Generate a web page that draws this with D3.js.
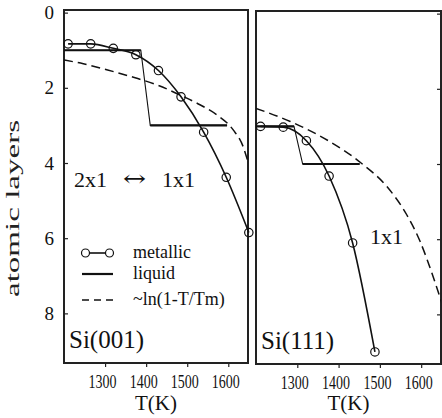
<!DOCTYPE html>
<html>
<head>
<meta charset="utf-8">
<script src="https://cdn.jsdelivr.net/npm/d3@7/dist/d3.min.js"></script>
<style>
  body { margin: 0; background: #fff; }
  svg text { font-family: "Liberation Serif", "DejaVu Serif", serif; fill: #111; }
</style>
</head>
<body>
<div id="chart"></div>
<script>
// tick values
const tempTicks = [1300, 1400, 1500, 1600];
const layerTicks = [0, 2, 4, 6, 8];

// Si(001) panel
const metal001T = [1210, 1265, 1320, 1375, 1430, 1485, 1540, 1595, 1650];
const metal001D = [0.83, 0.83, 0.95, 1.12, 1.54, 2.24, 3.18, 4.38, 5.85];
const liquid001T = [1200, 1387, 1410, 1597];
const liquid001D = [1.0, 1.0, 3.0, 3.0];
const ln001T = [1200, 1247, 1304, 1369, 1426, 1482, 1531, 1572, 1612, 1636, 1650];
const ln001D = [1.26, 1.36, 1.52, 1.72, 1.92, 2.19, 2.45, 2.72, 3.12, 3.56, 4.05];

// Si(111) panel
const metal111T = [1211, 1266, 1322, 1377, 1434, 1488];
const metal111D = [3.0, 3.02, 3.38, 4.32, 6.1, 9.0];
const liquid111T = [1200, 1292, 1313, 1451];
const liquid111D = [3.0, 3.0, 4.0, 4.0];
const ln111T = [1200, 1283, 1364, 1453, 1517, 1565, 1597, 1629, 1650];
const ln111D = [2.52, 2.87, 3.31, 3.96, 4.6, 5.35, 6.05, 7.0, 7.7];

const W = 442, H = 418;
const svg = d3.select('#chart').append('svg')
    .attr('width', W)
    .attr('height', H);

const zip = (a, b) => a.map((v, i) => [v, b[i]]);

const panels = [
    { id: 'p001', x0: 64, x1: 248, y0: 10, y1: 363, name: 'Si(001)', labelled: true,
      metal: zip(metal001T, metal001D), liquid: zip(liquid001T, liquid001D), ln: zip(ln001T, ln001D) },
    { id: 'p111', x0: 256, x1: 441, y0: 11, y1: 364, name: 'Si(111)', labelled: false,
      metal: zip(metal111T, metal111D), liquid: zip(liquid111T, liquid111D), ln: zip(ln111T, ln111D) }
];

const defs = svg.append('defs');

panels.forEach(p => {
    const x = d3.scaleLinear().domain([1200, 1648]).range([p.x0, p.x1]);
    const y = d3.scaleLinear().domain([-0.07, 9.32]).range([p.y0, p.y1]);

    defs.append('clipPath').attr('id', 'clip-' + p.id)
        .append('rect')
        .attr('x', p.x0).attr('y', p.y0)
        .attr('width', p.x1 - p.x0).attr('height', p.y1 - p.y0);

    const g = svg.append('g');

    // x axis
    const xAxis = g.append('g')
        .attr('transform', `translate(0,${p.y1})`)
        .call(d3.axisBottom(x).tickValues(tempTicks).tickFormat(d3.format('d'))
            .tickSize(4).tickPadding(8));
    xAxis.select('.domain').remove();
    xAxis.selectAll('line').attr('stroke', '#222').attr('stroke-width', 1.2);
    xAxis.selectAll('text')
        .attr('font-size', 18)
        .attr('dx', -3)
        .attr('textLength', 28)
        .attr('lengthAdjust', 'spacingAndGlyphs')
        .style('font-family', '"Liberation Serif", serif')
        .attr('fill', '#111');

    // y axis ticks
    if (p.labelled) {
        const yAxis = g.append('g')
            .attr('transform', `translate(${p.x0},0)`)
            .call(d3.axisLeft(y).tickValues(layerTicks).tickSize(-4).tickPadding(10));
        yAxis.select('.domain').remove();
        yAxis.selectAll('line').attr('stroke', '#222').attr('stroke-width', 1.2);
        yAxis.selectAll('text')
            .attr('font-size', 19)
            .style('font-family', '"Liberation Serif", serif')
            .attr('fill', '#111');
    } else {
        const yAxis = g.append('g')
            .attr('transform', `translate(${p.x1},0)`)
            .call(d3.axisRight(y).tickValues(layerTicks).tickSize(-4).tickFormat(''));
        yAxis.select('.domain').remove();
        yAxis.selectAll('line').attr('stroke', '#222').attr('stroke-width', 1.2);
    }

    // frame
    g.append('rect')
        .attr('x', p.x0).attr('y', p.y0)
        .attr('width', p.x1 - p.x0).attr('height', p.y1 - p.y0)
        .attr('fill', 'none')
        .attr('stroke', '#222')
        .attr('stroke-width', 2);

    const plot = g.append('g').attr('clip-path', `url(#clip-${p.id})`);

    // ~ln(1-T/Tm) dashed
    plot.append('path')
        .datum(p.ln)
        .attr('d', d3.line().x(d => x(d[0])).y(d => y(d[1])).curve(d3.curveMonotoneX))
        .attr('fill', 'none')
        .attr('stroke', '#111')
        .attr('stroke-width', 1.5)
        .attr('stroke-dasharray', '9,5');

    // liquid: thin connector plus thick flats
    const lineL = d3.line().x(d => x(d[0])).y(d => y(d[1]));
    plot.append('path')
        .datum(p.liquid)
        .attr('d', lineL)
        .attr('fill', 'none')
        .attr('stroke', '#111')
        .attr('stroke-width', 1.1);
    [p.liquid.slice(0, 2), p.liquid.slice(2, 4)].forEach(seg => {
        plot.append('path')
            .datum(seg)
            .attr('d', lineL)
            .attr('fill', 'none')
            .attr('stroke', '#111')
            .attr('stroke-width', 2.2);
    });

    // metallic
    g.append('path')
        .datum(p.metal)
        .attr('d', d3.line().x(d => x(d[0])).y(d => y(d[1])).curve(d3.curveMonotoneX))
        .attr('fill', 'none')
        .attr('stroke', '#111')
        .attr('stroke-width', 1.6);
    g.selectAll('.pt-' + p.id)
        .data(p.metal)
        .enter()
        .append('circle')
        .attr('class', 'pt-' + p.id)
        .attr('cx', d => x(d[0]))
        .attr('cy', d => y(d[1]))
        .attr('r', 4.2)
        .attr('fill', 'none')
        .attr('stroke', '#111')
        .attr('stroke-width', 1.2);

    // axis title
    g.append('text')
        .attr('x', (p.x0 + p.x1) / 2)
        .attr('y', 410)
        .attr('text-anchor', 'middle')
        .attr('font-size', 21)
        .text('T(K)');

    // panel name
    g.append('text')
        .attr('x', p.x0 + 5)
        .attr('y', p.y1 - 15)
        .attr('font-size', 25)
        .text(p.name);
});

// y title
svg.append('text')
    .attr('transform', 'translate(18.5,208.5) rotate(-90)')
    .attr('text-anchor', 'middle')
    .attr('font-size', 18)
    .attr('textLength', 177)
    .attr('lengthAdjust', 'spacingAndGlyphs')
    .style('fill', '#222')
    .text('atomic layers');

// annotations
svg.append('text').attr('x', 74).attr('y', 187).attr('font-size', 22).text('2x1');
svg.append('text')
    .attr('transform', 'translate(123,186) scale(1.25,1)')
    .attr('font-size', 22)
    .style('font-family', '"DejaVu Serif", serif')
    .text('\u2194');
svg.append('text').attr('x', 162).attr('y', 187).attr('font-size', 22).text('1x1');
svg.append('text').attr('x', 370).attr('y', 244).attr('font-size', 22).text('1x1');

// legend
const legend = svg.append('g');
const lx0 = 82, lx1 = 113, tx = 133;
legend.append('line')
    .attr('x1', lx0 + 3.5).attr('x2', lx1 - 3.5).attr('y1', 253).attr('y2', 253)
    .attr('stroke', '#111').attr('stroke-width', 1.6);
[lx0 + 3.5, lx1 - 3.5].forEach(cx => {
    legend.append('circle').attr('cx', cx).attr('cy', 253).attr('r', 4)
        .attr('fill', '#fff').attr('stroke', '#111').attr('stroke-width', 1.2);
});
legend.append('line')
    .attr('x1', lx0).attr('x2', lx1).attr('y1', 274).attr('y2', 274)
    .attr('stroke', '#111').attr('stroke-width', 2.2);
legend.append('line')
    .attr('x1', lx0).attr('x2', lx1).attr('y1', 300).attr('y2', 300)
    .attr('stroke', '#111').attr('stroke-width', 1.5)
    .attr('stroke-dasharray', '7,5');
legend.append('text').attr('x', tx).attr('y', 258).attr('font-size', 18).text('metallic');
legend.append('text').attr('x', tx).attr('y', 279).attr('font-size', 18).text('liquid');
legend.append('text').attr('x', tx).attr('y', 305).attr('font-size', 18).text('~ln(1-T/Tm)');
</script>
</body>
</html>
